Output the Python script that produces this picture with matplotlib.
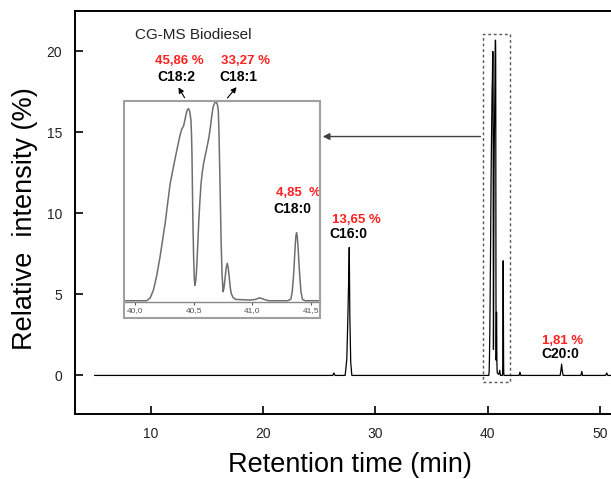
import matplotlib
matplotlib.use("Agg")
import matplotlib.pyplot as plt
import numpy as np
from matplotlib.patches import Rectangle

plt.rcParams["font.family"] = ["Liberation Sans", "DejaVu Sans"]

W, H = 611, 479

# chromatogram: retention time (min) / relative intensity (%)
early_rt = [5.0, 26.2, 26.3, 26.4, 27.3]
early_int = [0.0, 0.0, 0.15, 0.0, 0.0]

c16_rt = [27.35, 27.45, 27.55, 27.62, 27.67, 27.72, 27.8, 27.9, 39.9]
c16_int = [0.3, 1.0, 3.7, 6.0, 7.9, 3.7, 0.8, 0.0, 0.0]

# C18 cluster (same trace is zoomed in the inset)
c18_rt = [39.91, 40.10, 40.13, 40.157, 40.185, 40.214, 40.235, 40.257, 40.28,
          40.30, 40.328, 40.357, 40.385, 40.40, 40.414, 40.425, 40.437, 40.447,
          40.457, 40.467, 40.477, 40.482, 40.486, 40.49, 40.494, 40.50, 40.505,
          40.51, 40.517, 40.523, 40.528, 40.535, 40.543, 40.553, 40.563, 40.575,
          40.585, 40.60, 40.614, 40.63, 40.643, 40.655, 40.666, 40.68, 40.694,
          40.703, 40.71, 40.716, 40.723, 40.729, 40.734, 40.742, 40.751, 40.758,
          40.766, 40.776, 40.786, 40.795, 40.803, 40.812, 40.82, 40.835, 40.857,
          40.985, 41.028, 41.063, 41.10, 41.14, 41.30, 41.328, 41.34, 41.351,
          41.358, 41.365, 41.371, 41.377, 41.383, 41.39, 41.397, 41.405, 41.415,
          41.428, 41.45, 41.585]
c18_int = [0.0, 0.0, 0.3, 1.1, 2.6, 4.6, 6.3, 8.05, 10.3,
           12.2, 13.95, 15.7, 17.3, 17.9, 18.2, 18.8, 19.5, 19.9,
           20.0, 19.7, 18.8, 17.3, 15.0, 11.5, 8.05, 4.5, 2.5,
           1.6, 2.0, 2.8, 3.9, 5.8, 8.05, 10.3, 12.2, 13.5,
           14.3, 15.2, 16.0, 17.0, 18.1, 19.3, 20.2, 20.6, 20.7,
           20.4, 19.8, 17.5, 13.3, 9.5, 6.3, 2.8, 0.94, 1.3,
           2.15, 3.3, 3.9, 3.4, 2.5, 1.4, 0.77, 0.35, 0.14,
           0.07, 0.14, 0.31, 0.14, 0.0, 0.0, 0.15, 0.9, 2.5,
           4.0, 5.6, 6.7, 7.08, 6.7, 5.6, 4.0, 2.5, 0.9,
           0.14, 0.0, 0.0]

late_rt = [42.8, 42.87, 42.95, 46.45, 46.52, 46.58, 46.64, 46.72,
           48.3, 48.38, 48.45, 50.5, 50.6, 50.7, 51.5]
late_int = [0.0, 0.2, 0.0, 0.0, 0.3, 0.7, 0.3, 0.0,
            0.0, 0.25, 0.0, 0.0, 0.15, 0.0, 0.0]

x_ticks = [10, 20, 30, 40, 50]
y_ticks = [0, 5, 10, 15, 20]
inset_ticks = [40.0, 40.5, 41.0, 41.5]
inset_labels = ["40,0", "40,5", "41,0", "41,5"]

peak_names = ["C18:2", "C18:1", "C18:0", "C16:0", "C20:0"]
peak_pct = ["45,86 %", "33,27 %", "4,85  %", "13,65 %", "1,81 %"]

RED = "#ff2020"


def px(x, y):
    """figure pixel (from top-left) -> figure fraction"""
    return x / W, 1 - y / H


def main():
    fig = plt.figure(figsize=(W / 100, H / 100), dpi=100)

    left, top = px(74.5, 11)
    _, bottom = px(0, 414.3)
    ax = fig.add_axes([left, bottom, 1 - left, top - bottom])

    rt = np.concatenate([early_rt, c16_rt, c18_rt, late_rt])
    inten = np.concatenate([early_int, c16_int, c18_int, late_int])
    ax.plot(rt, inten, color="black", lw=0.9)

    ax.set_xlim(3.2, 50.98)
    ax.set_ylim(-2.4, 22.5)
    ax.set_xticks(x_ticks)
    ax.set_yticks(y_ticks)
    ax.tick_params(direction="in", length=6, width=1.2, labelsize=10,
                   labelcolor="#222222", pad=9)
    for s in ["left", "bottom", "top"]:
        ax.spines[s].set_linewidth(1.4)
    ax.spines["right"].set_visible(False)

    fig.text(*px(350, 465), "Retention time (min)", ha="center", va="center",
             fontsize=19.5)
    fig.text(*px(25, 219), "Relative  intensity (%)", ha="center", va="center",
             rotation=90, fontsize=19.5)

    ax.text(8.59, 21.03, "CG-MS Biodiesel", ha="left", va="center",
            fontsize=11, color="#222222")

    # dotted zoom box around C18 cluster and pointer to inset
    ax.add_patch(Rectangle((39.6, -0.43), 2.38, 21.52, fill=False,
                           ls=(0, (2, 2)), lw=1, ec="#555555"))
    ax.annotate("", xy=(25.06, 14.75), xytext=(39.6, 14.75),
                arrowprops=dict(arrowstyle="-|>", color="#404040", lw=1,
                                mutation_scale=10))

    # peak labels
    lab_xy = [(12.3, 18.44), (17.79, 18.44), (22.6, 10.27), (27.58, 8.75), (46.5, 1.32)]
    pct_xy = [(12.51, 19.43), (18.45, 19.43), (23.16, 11.26), (28.27, 9.61), (46.63, 2.14)]
    for name, pct, (lx, ly), (qx, qy) in zip(peak_names, peak_pct, lab_xy, pct_xy):
        ax.text(lx, ly, name, ha="center", va="center", fontsize=10,
                fontweight="bold", color="black")
        ax.text(qx, qy, pct, ha="center", va="center", fontsize=9.5,
                fontweight="bold", color=RED)

    ax.annotate("", xy=(12.33, 17.93), xytext=(13.13, 17.0),
                arrowprops=dict(arrowstyle="-|>", color="black", lw=0.8,
                                mutation_scale=8))
    ax.annotate("", xy=(17.79, 17.93), xytext=(16.66, 17.0),
                arrowprops=dict(arrowstyle="-|>", color="black", lw=0.8,
                                mutation_scale=8))

    # inset
    fx, fy = px(124.3, 318.3)
    fig.patches.append(Rectangle((fx, fy), 195.7 / W, 217.3 / H,
                                 transform=fig.transFigure, fill=False,
                                 ec="#a0a0a0", lw=1.5, zorder=3))
    ix, iy = px(124.3, 301.7)
    ax_in = fig.add_axes([ix, iy, 195.7 / W, 200.7 / H], facecolor="none")
    ax_in.plot(c18_rt, c18_int, color="#6e6e6e", lw=1.1)
    ax_in.set_xlim(39.909, 41.577)
    ax_in.set_ylim(-0.1, 20.8)
    ax_in.set_yticks([])
    ax_in.set_xticks(inset_ticks)
    ax_in.set_xticklabels(inset_labels)
    ax_in.tick_params(axis="x", direction="out", length=2.5, width=0.8,
                      labelsize=6, colors="#555555", pad=1.5)
    for s in ["left", "right", "top"]:
        ax_in.spines[s].set_visible(False)
    ax_in.spines["bottom"].set_color("#888888")
    ax_in.spines["bottom"].set_linewidth(1)

    fig.savefig("out.png", dpi=100)


if __name__ == "__main__":
    main()
